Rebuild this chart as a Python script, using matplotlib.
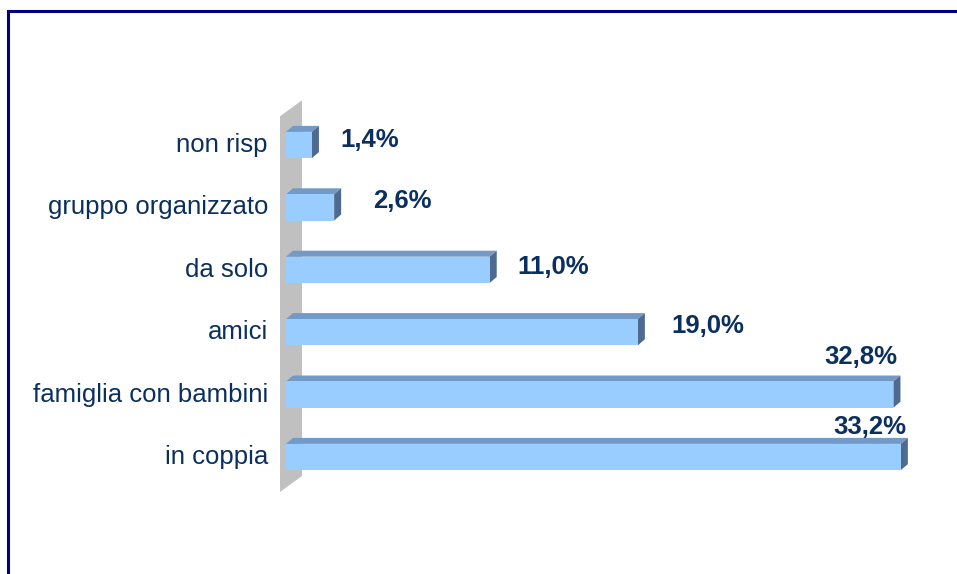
import matplotlib.pyplot as plt
import numpy as np
from matplotlib.patches import Polygon, Rectangle

plt.rcParams['font.family'] = ['Liberation Sans', 'DejaVu Sans']

# data (bottom to top)
categories = ['in coppia', 'famiglia con bambini', 'amici', 'da solo',
              'gruppo organizzato', 'non risp']
values = [33.2, 32.8, 19.0, 11.0, 2.6, 1.4]
labels = ['33,2%', '32,8%', '19,0%', '11,0%', '2,6%', '1,4%']

# label offsets in pixels (dx, dy, ha)
label_offsets = [(6, 30, 'right'), (4, 38, 'right'), (34, 6, 'left'),
                 (28, 3, 'left'), (39, 6, 'left'), (28, 5, 'left')]

W, H = 957, 574
fig = plt.figure(figsize=(W / 100, H / 100), dpi=100)

# frame around the chart (runs off right/bottom edges)
fig.patches.append(Rectangle((8 / W, -0.1), 1.2, (H - 11) / H + 0.1,
                             transform=fig.transFigure, fill=False,
                             edgecolor='#000080', linewidth=2.2))

ax = fig.add_axes([286 / W, (H - 519.4) / H, 666.7 / W, 436.8 / H])
ax.set_xlim(0, 36)
ax.set_ylim(-1, 6)
ax.axis('off')

text_col = '#0B2F5E'
front = '#99CCFF'
top = '#7399C6'
side = '#4F6A8F'
bar_h = 0.42

# grey back wall, built in display pixels
wall_x0 = -6 / 18.52
p1 = ax.transData.transform([(wall_x0, -0.56), (wall_x0, 5.46)])
off_w = np.array([22, 16])
wall_pts = np.array([p1[0], p1[1], p1[1] + off_w, p1[0] + off_w])
fig.patches.append(Polygon(wall_pts, closed=True, transform=None,
                           facecolor='#C0C0C0', edgecolor='none', zorder=0))

off_b = np.array([7, 6])
for i, (v, lab) in enumerate(zip(values, labels)):
    y0, y1 = i - bar_h / 2, i + bar_h / 2
    bl, br, tr, tl = ax.transData.transform([(0, y0), (v, y0), (v, y1), (0, y1)])
    # top face, side face, front face
    fig.patches.append(Polygon([tl, tr, tr + off_b, tl + off_b], closed=True,
                               transform=None, facecolor=top,
                               edgecolor='none', zorder=2))
    fig.patches.append(Polygon([br, tr, tr + off_b, br + off_b], closed=True,
                               transform=None, facecolor=side,
                               edgecolor='none', zorder=2))
    fig.patches.append(Polygon([bl, br, tr, tl], closed=True,
                               transform=None, facecolor=front,
                               edgecolor='none', zorder=3))
    dx, dy, ha = label_offsets[i]
    ax.annotate(lab, (v, i), xytext=(dx, dy), textcoords='offset pixels',
                ha=ha, va='center', fontsize=18.5, fontweight='bold',
                color=text_col)
    ax.annotate(categories[i], (0, i), xytext=(-18, 0),
                textcoords='offset pixels', ha='right', va='center',
                fontsize=18.5, color=text_col)

fig.savefig('out.png', dpi=100)
